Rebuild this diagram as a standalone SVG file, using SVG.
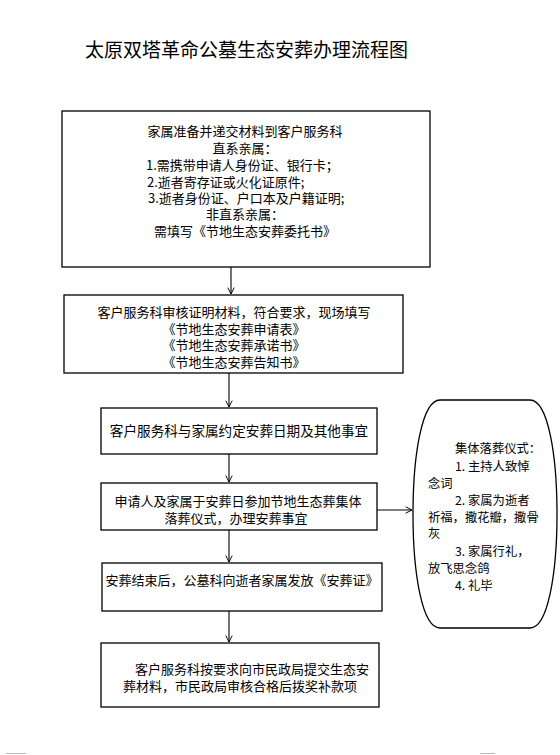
<svg xmlns="http://www.w3.org/2000/svg" width="560" height="755" viewBox="0 0 560 755">
<defs>
<marker id="arr" viewBox="0 0 10 10" refX="9" refY="5" markerWidth="8" markerHeight="8" markerUnits="userSpaceOnUse" orient="auto">
<path d="M1,1 L9,5 L1,9" fill="none" stroke="#000" stroke-width="1.2"/>
</marker>
<style>
text{font-family:"Noto Sans CJK SC","Noto Sans",sans-serif;font-size:13px;fill:#000;dominant-baseline:central}
.c{text-anchor:middle}
.box{fill:#fff;stroke:#000;stroke-width:1.3}
.ln{stroke:#000;stroke-width:1.1;fill:none;marker-end:url(#arr)}
.e text{font-size:12.3px}
</style>
</defs>
<rect width="560" height="755" fill="#fff"/>
<text x="85" y="48" style="font-size:19px">太原双塔革命公墓生态安葬办理流程图</text>

<g id="connectors">
<line class="ln" x1="231" y1="267" x2="231" y2="294"/>
<line class="ln" x1="229" y1="373" x2="229" y2="407"/>
<line class="ln" x1="229" y1="454" x2="229" y2="482"/>
<line class="ln" x1="229" y1="530" x2="229" y2="562"/>
<line class="ln" x1="229" y1="611" x2="229" y2="642"/>
<line class="ln" x1="377" y1="510" x2="412" y2="510"/>
</g>

<g id="n1">
<rect class="box" x="62" y="111" width="368" height="156"/>
<text class="c" x="245" y="130">家属准备并递交材料到客户服务科</text>
<text class="c" x="245" y="147">直系亲属：</text>
<text x="146" y="164">1.需携带申请人身份证、银行卡；</text>
<text x="147" y="181">2.逝者寄存证或火化证原件;</text>
<text x="148" y="197">3.逝者身份证、户口本及户籍证明;</text>
<text class="c" x="245" y="213">非直系亲属：</text>
<text class="c" x="245" y="230">需填写《节地生态安葬委托书》</text>
</g>

<g id="n2">
<rect class="box" x="64" y="295" width="339" height="78"/>
<text class="c" x="234" y="311">客户服务科审核证明材料，符合要求，现场填写</text>
<text class="c" x="234" y="328">《节地生态安葬申请表》</text>
<text class="c" x="234" y="344">《节地生态安葬承诺书》</text>
<text class="c" x="234" y="361">《节地生态安葬告知书》</text>
</g>

<g id="n3">
<rect class="box" x="101" y="408" width="276" height="46"/>
<text class="c" x="239" y="430" style="font-size:13.6px">客户服务科与家属约定安葬日期及其他事宜</text>
</g>

<g id="n4">
<rect class="box" x="101" y="483" width="276" height="47"/>
<text class="c" x="238" y="500">申请人及家属于安葬日参加节地生态葬集体</text>
<text class="c" x="236" y="517">落葬仪式，办理安葬事宜</text>
</g>

<g id="n5">
<rect class="box" x="102" y="563" width="280" height="48"/>
<text class="c" x="242" y="579">安葬结束后，公墓科向逝者家属发放《安葬证》</text>
</g>

<g id="n6">
<rect class="box" x="101" y="643" width="278" height="64"/>
<text x="135" y="668">客户服务科按要求向市民政局提交生态安</text>
<text x="123" y="685">葬材料，市民政局审核合格后拨奖补款项</text>
</g>

<g id="n7" class="e">
<path class="box" d="M440,400 H530 C548,400 557,455 557,514 C557,573 548,628 530,628 H440 C422,628 413,573 413,514 C413,455 422,400 440,400 Z"/>
<text x="455" y="448">集体落葬仪式：</text>
<text x="455" y="466">1. 主持人致悼</text>
<text x="428" y="483">念词</text>
<text x="455" y="500">2. 家属为逝者</text>
<text x="428" y="517">祈福，撒花瓣，撒骨</text>
<text x="428" y="533">灰</text>
<text x="455" y="551">3. 家属行礼，</text>
<text x="428" y="568">放飞思念鸽</text>
<text x="455" y="585">4. 礼毕</text>
</g>

<line x1="6" y1="753.5" x2="26" y2="753.5" stroke="#bbb" stroke-width="1"/>
<line x1="480" y1="753.5" x2="495" y2="753.5" stroke="#bbb" stroke-width="1"/>
</svg>
